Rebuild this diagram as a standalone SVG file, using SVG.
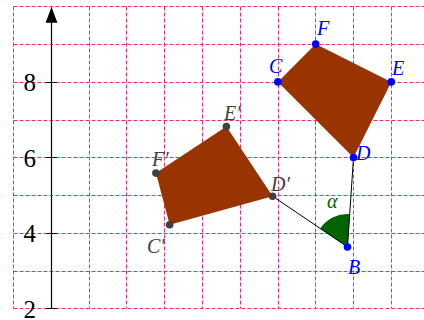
<svg xmlns="http://www.w3.org/2000/svg" width="424" height="320" viewBox="0 0 424 320">
  <style>
    .grid { stroke: #f2287c; stroke-width: 1; stroke-dasharray: 4 2; fill: none; }
    .num { font-family: "Liberation Serif", "DejaVu Serif", serif; font-size: 25px; fill: #000; text-anchor: end; }
    .lbl { font-family: "Liberation Serif", "DejaVu Serif", serif; font-style: italic; font-size: 20px; }
    .blue { fill: #0000ff; }
    .gray { fill: #404040; }
    .poly { fill: #993300; stroke: none; }
    .seg { stroke: #000; stroke-width: 1; fill: none; }
  </style>
  <rect width="424" height="320" fill="#fff"/>
  <g id="grid">
    <path class="grid" d="M13.5 6.5V308.5 M51.5 6.5V308.5 M89.5 6.5V308.5 M126.5 6.5V308.5 M164.5 6.5V308.5 M202.5 6.5V308.5 M240.5 6.5V308.5 M278.5 6.5V308.5 M315.5 6.5V308.5 M353.5 6.5V308.5 M391.5 6.5V308.5"/>
    <path class="grid" d="M13.5 6.5H424 M13.5 44.5H424 M13.5 82.5H424 M13.5 120.5H424 M13.5 157.5H424 M13.5 195.5H424 M13.5 233.5H424 M13.5 271.5H424 M13.5 308.5H424"/>
  </g>
  <g id="axis">
    <line x1="51.5" y1="308.5" x2="51.5" y2="20" stroke="#000" stroke-width="1.2"/>
    <polygon points="51.5,7 45.6,22.7 57.4,22.7" fill="#000"/>
    <path d="M46 82.5H57 M46 157.5H57 M46 233.5H57 M46 308.5H57" stroke="#000" stroke-width="1.2"/>
    <text class="num" x="36" y="91">8</text>
    <text class="num" x="36" y="166.5">6</text>
    <text class="num" x="36" y="242">4</text>
    <text class="num" x="36" y="317.5">2</text>
  </g>
  <g id="angle">
    <path d="M347.5 247 L349.9 214.1 A33 33 0 0 0 320.2 228.5 Z" fill="#006400"/>
    <text class="lbl" x="327" y="208" fill="#006400">α</text>
  </g>
  <g id="connectors">
    <line class="seg" x1="347.5" y1="247" x2="353.5" y2="157.5"/>
    <line class="seg" x1="347.5" y1="247" x2="272.6" y2="196.2"/>
  </g>
  <g id="CFED">
    <polygon class="poly" points="277.9,81.9 315.7,44.1 391.3,81.9 353.5,157.5"/>
  </g>
  <g id="CFED-image">
    <polygon class="poly" points="169.7,224.7 155.9,173.1 226.4,126.5 272.6,196.2"/>
  </g>
  <g id="C"><circle class="blue" cx="277.9" cy="81.9" r="3.8"/><text class="lbl blue" x="269" y="73">C</text></g>
  <g id="F"><circle class="blue" cx="315.7" cy="44.1" r="3.8"/><text class="lbl blue" x="317" y="35">F</text></g>
  <g id="E"><circle class="blue" cx="391.3" cy="81.9" r="3.8"/><text class="lbl blue" x="392" y="75">E</text></g>
  <g id="D"><circle class="blue" cx="353.5" cy="157.5" r="3.8"/><text class="lbl blue" x="356" y="160">D</text></g>
  <g id="B"><circle class="blue" cx="347.5" cy="247" r="3.8"/><text class="lbl blue" x="348" y="274">B</text></g>
  <g id="C2"><circle class="gray" cx="169.7" cy="224.7" r="3.8"/><text class="lbl gray" x="147" y="253">C′</text></g>
  <g id="F2"><circle class="gray" cx="155.9" cy="173.1" r="3.8"/><text class="lbl gray" x="152" y="166">F′</text></g>
  <g id="E2"><circle class="gray" cx="226.4" cy="126.5" r="3.8"/><text class="lbl gray" x="224" y="120">E′</text></g>
  <g id="D2"><circle class="gray" cx="272.6" cy="196.2" r="3.8"/><text class="lbl gray" x="271" y="191">D′</text></g>
</svg>
